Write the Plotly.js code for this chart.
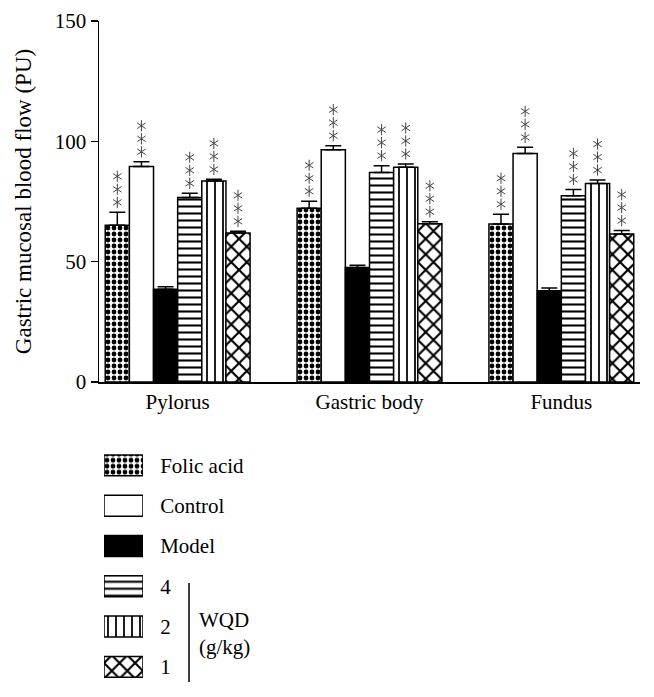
<!DOCTYPE html>
<html><head><meta charset="utf-8">
<script src="https://cdn.plot.ly/plotly-3.0.1.min.js"></script>
<style>html,body{margin:0;padding:0;background:#fff}</style>
</head><body><div id="chart" style="width:654px;height:697px"></div>
<script>
// ---- data ----
const categories = ["Pylorus", "Gastric body", "Fundus"];
const seriesNames = ["Folic acid", "Control", "Model", "4", "2", "1"];
const folicAcid = [65.1, 72.2, 65.6];
const folicAcidErr = [5.4, 2.9, 4.1];
const control = [89.5, 96.5, 94.9];
const controlErr = [2.0, 1.7, 2.6];
const model = [38.5, 47.6, 37.9];
const modelErr = [1.1, 0.9, 1.2];
const wqd4 = [76.7, 87.0, 77.4];
const wqd4Err = [1.7, 2.9, 2.6];
const wqd2 = [83.5, 89.2, 82.5];
const wqd2Err = [0.7, 1.4, 1.4];
const wqd1 = [61.9, 65.8, 61.5];
const wqd1Err = [0.7, 0.8, 1.4];
const starCounts = [3, 3, 0, 3, 3, 3];   // "***" significance marks per series
const yTicks = [0, 50, 100, 150];
const groupLabel = "WQD<br>(g/kg)";
const yTitle = "Gastric mucosal blood flow (PU)";

const values = [folicAcid, control, model, wqd4, wqd2, wqd1];
const errors = [folicAcidErr, controlErr, modelErr, wqd4Err, wqd2Err, wqd1Err];

// ---- styles ----
const FONT = "Liberation Serif, Times New Roman, serif";
function markerFor(i) {
  const line = {color: "#000", width: 1.5};
  const pat = [
    {shape: ".", fgcolor: "#000", bgcolor: "#fff", size: 6, solidity: 0.5},
    null,
    null,
    {shape: "-", fgcolor: "#000", bgcolor: "#fff", size: 7, solidity: 0.3},
    {shape: "|", fgcolor: "#000", bgcolor: "#fff", size: 8, solidity: 0.22},
    {shape: "x", fgcolor: "#000", bgcolor: "#fff", size: 11, solidity: 0.35}
  ][i];
  const m = {color: i === 2 ? "#000" : "#fff", line: line};
  if (pat) m.pattern = pat;
  return m;
}

const bargap = 0.245;
const nSeries = seriesNames.length;
const barW = (1 - bargap) / nSeries;
const xRange = [-0.41, 2.41];
const yRange = [0, 150];
const H = 697, MT = 21, MB = 10;
const yDomain = [0.458, 1];
const pxPerUnit = (H - MT - MB) * (yDomain[1] - yDomain[0]) / (yRange[1] - yRange[0]);

const traces = [];
values.forEach((v, i) => {
  traces.push({
    type: "bar", x: categories, y: v, name: seriesNames[i],
    xaxis: "x", yaxis: "y", showlegend: false,
    marker: markerFor(i),
    error_y: {type: "data", symmetric: false, array: errors[i], arrayminus: v.map(() => 0),
              color: "#000", thickness: 1.5, width: 8},
    hoverinfo: "x+y+name"
  });
});

// significance asterisks: markers placed above each error bar (on an overlaying numeric axis)
const sx = [], sy = [];
values.forEach((v, i) => {
  const off = -(1 - bargap) / 2 + (i + 0.5) * barW;
  v.forEach((val, g) => {
    for (let k = 0; k < starCounts[i]; k++) {
      sx.push(g + off);
      sy.push(val + errors[i][g] + (10 + 13 * k) / pxPerUnit);
    }
  });
});
["y-up-open", "y-down-open"].forEach(sym => {
  traces.push({
    type: "scatter", mode: "markers", x: sx, y: sy, xaxis: "x3", yaxis: "y",
    showlegend: false, hoverinfo: "skip",
    marker: {symbol: sym, size: 7, color: "#444", line: {color: "#444", width: 1}}
  });
});

// legend swatches drawn as bars on a small side axis
seriesNames.forEach((n, i) => {
  traces.push({
    type: "bar", orientation: "h", y: [n], x: [1], base: 0,
    xaxis: "x2", yaxis: "y2", showlegend: false,
    width: 0.52, offset: -0.26,
    marker: markerFor(i), hoverinfo: "y"
  });
});

const layout = {
  width: 654, height: H,
  margin: {l: 99, r: 14, t: MT, b: MB},
  paper_bgcolor: "#fff", plot_bgcolor: "#fff",
  barmode: "group", bargap: bargap, bargroupgap: 0,
  showlegend: false,
  font: {family: FONT, size: 21, color: "#000"},
  xaxis: {domain: [0, 1], anchor: "y", type: "category", range: xRange,
          showline: true, linewidth: 2, linecolor: "#000", ticks: "", showgrid: false,
          zeroline: false, tickfont: {family: FONT, size: 21, color: "#000"}},
  xaxis3: {overlaying: "x", anchor: "y", type: "linear", range: xRange, visible: false},
  yaxis: {domain: yDomain, anchor: "x", range: yRange, tickvals: yTicks,
          ticks: "outside", ticklen: 7, tickwidth: 1.5, tickcolor: "#000",
          showline: true, linewidth: 1.5, linecolor: "#000", showgrid: false, zeroline: false,
          tickfont: {family: FONT, size: 21, color: "#000"},
          title: {text: yTitle, font: {family: FONT, size: 23, color: "#000"}, standoff: 16}},
  xaxis2: {domain: [0.00924, 0.0813], anchor: "y2", range: [0, 1], visible: false, fixedrange: true},
  yaxis2: {domain: [0, 0.363], anchor: "x2", type: "category", categoryorder: "array",
           categoryarray: seriesNames, range: [5.5, -0.5], side: "right",
           showline: false, showgrid: false, zeroline: false,
           ticks: "outside", ticklen: 12, tickcolor: "rgba(0,0,0,0)",
           tickfont: {family: FONT, size: 21, color: "#000"}},
  shapes: [{type: "line", xref: "paper", yref: "paper", x0: 0.1664, x1: 0.1664,
            y0: 0.0075, y1: 0.156, line: {color: "#000", width: 1.5}}],
  annotations: [{
    xref: "paper", yref: "paper", x: 0.181, y: 0.081, xanchor: "left", yanchor: "middle",
    align: "left", text: groupLabel, showarrow: false,
    font: {family: FONT, size: 21, color: "#000"}
  }]
};

Plotly.newPlot("chart", traces, layout, {displayModeBar: false, staticPlot: true});
</script>
</body></html>
